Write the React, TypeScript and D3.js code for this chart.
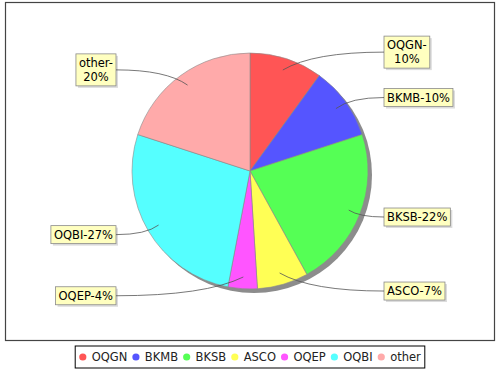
import { useEffect, useRef } from 'react';
import * as d3 from 'd3';

const names = ['OQGN', 'BKMB', 'BKSB', 'ASCO', 'OQEP', 'OQBI', 'other'];
const shares = [10, 10, 22, 7, 4, 27, 20];
const colors = ['#ff5555', '#5555ff', '#55ff55', '#ffff55', '#ff55ff', '#55ffff', '#ffaaaa'];
// labels that wrap after the hyphen
const wrapped = ['OQGN', 'other'];

const W = 500; const H = 370;
const FONT = '"DejaVu Sans", Verdana, sans-serif';

const App = () => {
  const ref = useRef<SVGSVGElement>(null);

  useEffect(() => {
    const svg = d3.select(ref.current);
    svg.selectAll('*').remove();

    const cx = 250; const cy = 171; const r = 118;

    // plot border
    svg.append('rect')
      .attr('x', 5.5).attr('y', 2.5)
      .attr('width', 489).attr('height', 338)
      .attr('fill', 'white')
      .attr('stroke', '#444').attr('stroke-width', 1.2);

    const data = names.map((n, i) => ({ name: n, value: shares[i], color: colors[i] }));

    const pie = d3.pie<any>().value(d => d.value).sort(null);
    const arcs = pie(data);
    const arc = d3.arc<any>().innerRadius(0).outerRadius(r);

    const g = svg.append('g').attr('transform', `translate(${cx},${cy})`);

    // shadow
    g.append('circle').attr('cx', 4).attr('cy', 4).attr('r', r).attr('fill', '#8c8c8c');

    g.selectAll('path.slice')
      .data(arcs)
      .enter()
      .append('path')
      .attr('class', 'slice')
      .attr('d', arc)
      .attr('fill', d => d.data.color)
      .attr('stroke', '#8a8a8a')
      .attr('stroke-width', 0.6);

    // labels
    const labelR = 125; const linkR = r * 0.9;
    const rightX = 384; const leftX = 116;
    const lineH = 14; const padX = 3;

    arcs.forEach(a => {
      const mid = (a.startAngle + a.endAngle) / 2;
      const ax = Math.sin(mid) * linkR;
      const ay = -Math.cos(mid) * linkR;
      const ly = -Math.cos(mid) * labelR;
      const right = Math.sin(mid) >= 0;
      const txt = `${a.data.name}-${a.data.value}%`;
      const lines = wrapped.includes(a.data.name)
        ? [`${a.data.name}-`, `${a.data.value}%`]
        : [txt];

      const lg = g.append('g');
      const t = lg.append('text')
        .attr('font-family', FONT).attr('font-size', 11.5)
        .attr('text-anchor', 'middle').attr('fill', 'black');
      lines.forEach((s, i) => {
        t.append('tspan').attr('x', 0).attr('dy', i === 0 ? 0 : lineH).text(s);
      });
      const tw = d3.max(t.selectAll<SVGTSpanElement, unknown>('tspan').nodes(), n => n.getComputedTextLength()) || 0;
      const bw = tw + padX * 2;
      const bh = lines.length * lineH + 4;
      const bx = right ? rightX - cx : leftX - cx - bw;
      const by = ly - bh / 2;
      t.attr('transform', `translate(${bx + bw / 2},${by + 13})`);

      lg.insert('rect', 'text')
        .attr('x', bx + 2).attr('y', by + 2).attr('width', bw).attr('height', bh)
        .attr('fill', '#dcdcdc');
      lg.insert('rect', 'text')
        .attr('x', bx).attr('y', by).attr('width', bw).attr('height', bh)
        .attr('fill', '#ffffc0').attr('stroke', '#8a8a8a').attr('stroke-width', 0.8);

      const ex = right ? bx : bx + bw;
      const ctrlX = ax + (ex - ax) * 0.3;
      g.append('path')
        .attr('d', `M${ax},${ay} Q${ctrlX},${ly} ${ex},${ly}`)
        .attr('fill', 'none').attr('stroke', '#555').attr('stroke-width', 0.8);
    });

    // legend
    const leg = svg.append('g');
    const items = data.map(d => {
      const ig = leg.append('g');
      ig.append('circle').attr('r', 3.6).attr('cx', 3.6).attr('cy', 0).attr('fill', d.color);
      const t = ig.append('text')
        .attr('x', 12.5).attr('y', 4.3)
        .attr('font-family', FONT).attr('font-size', 11.5)
        .attr('fill', '#222').text(d.name);
      return { ig, w: 12.5 + (t.node() as SVGTextElement).getComputedTextLength() };
    });
    const gap = 5; const pad = 4;
    const total = d3.sum(items, d => d.w) + gap * (items.length - 1) + pad * 2;
    const lx0 = W / 2 - total / 2;
    let x = lx0 + pad;
    const legY = 357;
    items.forEach(it => {
      it.ig.attr('transform', `translate(${x},${legY})`);
      x += it.w + gap;
    });
    leg.insert('rect', 'g')
      .attr('x', lx0).attr('y', legY - 11).attr('width', total).attr('height', 22)
      .attr('fill', 'white').attr('stroke', 'black').attr('stroke-width', 1);
  }, []);

  return (
    <svg ref={ref} width={W} height={H}
      style={{ position: 'absolute', left: 0, top: 0, background: 'white' }} />
  );
};

export default App;
